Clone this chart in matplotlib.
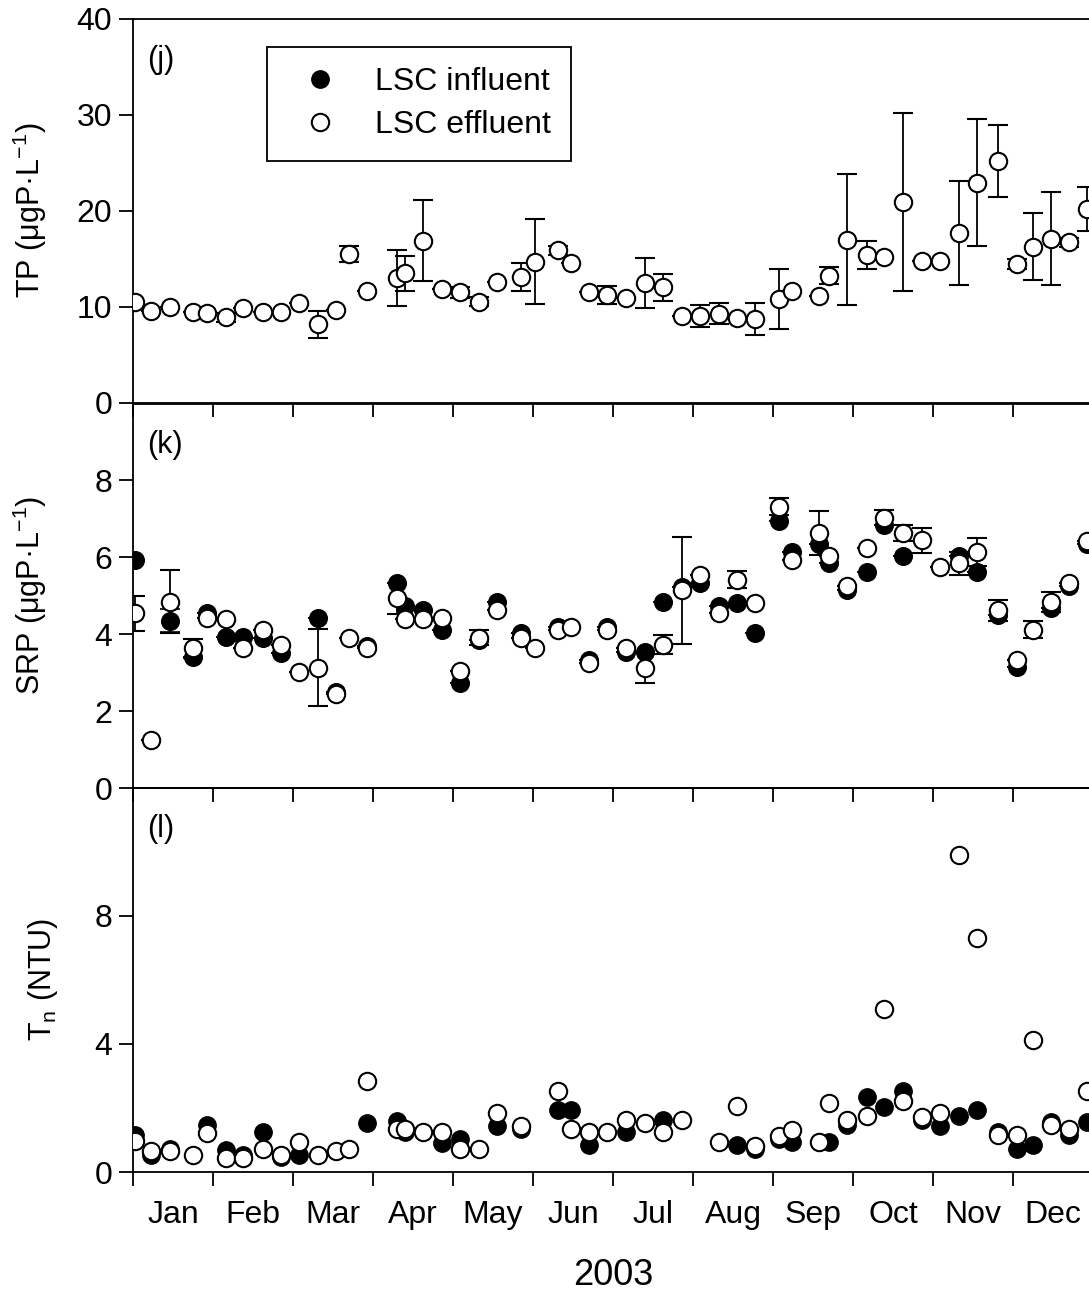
import matplotlib
matplotlib.use('Agg')
import matplotlib.pyplot as plt
import numpy as np
from matplotlib.lines import Line2D

plt.rcParams['font.family'] = ['Liberation Sans', 'DejaVu Sans']
plt.rcParams['mathtext.fontset'] = 'custom'
plt.rcParams['mathtext.rm'] = 'Liberation Sans'
plt.rcParams['mathtext.default'] = 'regular'

nan = np.nan

# sampling dates, in months since 1 Jan 2003
dates = [0.03, 0.23, 0.46, 0.75, 0.92, 1.16, 1.38, 1.62, 1.85, 2.08,
         2.31, 2.54, 2.70, 2.93, 3.30, 3.40, 3.63, 3.86, 4.09, 4.32,
         4.55, 4.85, 5.02, 5.31, 5.47, 5.70, 5.93, 6.16, 6.40, 6.63,
         6.86, 7.09, 7.32, 7.55, 7.78, 8.08, 8.24, 8.57, 8.70, 8.93,
         9.17, 9.39, 9.62, 9.86, 10.09, 10.33, 10.55, 10.81, 11.05, 11.25,
         11.48, 11.70, 11.93]

months = ['Jan', 'Feb', 'Mar', 'Apr', 'May', 'Jun',
          'Jul', 'Aug', 'Sep', 'Oct', 'Nov', 'Dec']

# (j) TP, effluent (influent sits under it)
tp_eff = [10.55, 9.6, 9.97, 9.5, 9.34, 8.9, 9.86, 9.5, 9.5, 10.45,
          8.2, 9.7, 15.5, 11.7, 13.0, 13.5, 16.9, 11.9, 11.5, 10.55,
          12.6, 13.1, 14.7, 15.87, 14.55, 11.5, 11.25, 10.9, 12.47, 12.05,
          9.0, 9.06, 9.27, 8.89, 8.75, 10.8, 11.7, 11.15, 13.26, 16.98,
          15.4, 15.17, 20.9, 14.8, 14.8, 17.67, 22.9, 25.17, 14.48, 16.28,
          17.08, 16.7, 20.17]
tp_eff_err = [0, 0, 0, 0, 0, 0.5, 0, 0, 0, 0,
              1.4, 0, 0.8, 0, 2.9, 1.8, 4.2, 0, 0.6, 0.5,
              0, 1.5, 4.4, 0.5, 0, 0, 0.9, 0, 2.6, 1.4,
              0, 1.15, 1.1, 0, 1.7, 3.1, 0, 0, 0.85, 6.8,
              1.46, 0, 9.3, 0, 0, 5.4, 6.6, 3.7, 0.5, 3.5,
              4.85, 0.5, 2.25]

# (k) SRP
srp_inf = [5.92, nan, 4.35, 3.41, 4.54, 3.93, 3.93, 3.91, 3.52, nan,
           4.42, 2.5, nan, 3.69, 5.33, 4.73, 4.64, 4.12, 2.72, 3.86,
           4.84, 4.02, nan, 4.19, nan, 3.32, 4.2, 3.54, 3.54, 4.84,
           5.23, 5.33, 4.73, 4.82, 4.03, 6.94, 6.14, 6.34, 5.85, 5.14,
           5.62, 6.83, 6.03, nan, nan, 6.03, 5.62, 4.49, 3.15, nan,
           4.67, 5.26, 6.34]
srp_inf_err = [0, 0, 0.3, 0, 0, 0, 0, 0, 0, 0,
               0, 0, 0, 0, 0, 0, 0, 0, 0, 0,
               0, 0, 0, 0, 0, 0, 0, 0, 0, 0,
               0, 0, 0, 0, 0, 0, 0, 0, 0, 0,
               0, 0, 0, 0, 0, 0, 0, 0, 0, 0,
               0, 0, 0]
srp_eff = [4.54, 1.25, 4.84, 3.63, 4.43, 4.4, 3.63, 4.12, 3.71, 3.02,
           3.13, 2.44, 3.91, 3.63, 4.93, 4.4, 4.4, 4.43, 3.05, 3.91,
           4.64, 3.91, 3.63, 4.12, 4.2, 3.24, 4.12, 3.63, 3.13, 3.73,
           5.14, 5.53, 4.54, 5.42, 4.82, 7.32, 5.92, 6.63, 6.03, 5.25,
           6.23, 7.03, 6.63, 6.44, 5.75, 5.84, 6.14, 4.62, 3.32, 4.12,
           4.84, 5.33, 6.42]
srp_eff_err = [0.45, 0, 0.82, 0.25, 0, 0, 0, 0, 0, 0,
               1.0, 0, 0, 0, 0.4, 0, 0, 0, 0, 0.2,
               0, 0, 0, 0, 0, 0, 0, 0, 0.4, 0.25,
               1.4, 0, 0, 0.22, 0, 0.22, 0, 0.58, 0, 0,
               0, 0.2, 0.2, 0.33, 0, 0.3, 0.36, 0.28, 0, 0.22,
               0.26, 0, 0]

# (l) turbidity
tn_inf = [1.15, 0.53, 0.73, nan, 1.46, 0.68, 0.53, 1.25, 0.48, 0.53,
          nan, nan, nan, 1.54, 1.58, 1.25, nan, 0.91, 1.04, nan,
          1.44, 1.35, nan, 1.92, 1.92, 0.84, nan, 1.25, nan, 1.63,
          nan, nan, nan, 0.84, 0.73, 1.04, 0.94, 0.94, 0.94, 1.46,
          2.34, 2.03, 2.54, 1.63, 1.44, 1.74, 1.92, 1.25, 0.73, 0.84,
          1.56, 1.15, 1.56]
tn_eff = [0.96, 0.65, 0.66, 0.53, 1.23, 0.44, 0.44, 0.73, 0.53, 0.94,
          0.53, 0.65, 0.73, 2.83, 1.35, 1.33, 1.25, 1.25, 0.73, 0.73,
          1.85, 1.44, nan, 2.54, 1.33, 1.25, 1.25, 1.61, 1.54, 1.25,
          1.63, nan, 0.94, 2.05, 0.81, 1.12, 1.32, 0.94, 2.15, 1.63,
          1.74, 5.1, 2.23, 1.72, 1.84, 9.88, 7.3, 1.15, 1.15, 4.11,
          1.46, 1.33, 2.54]

fig = plt.figure(figsize=(10.89, 12.93), dpi=100)
W, H = 1089, 1293
left = 133 / W
width = (1093 - 133) / W
panel_h = 384.5 / H
bottoms = [(H - 403) / H, (H - 788) / H, (H - 1172) / H]
axes = [fig.add_axes([left, b, width, panel_h]) for b in bottoms]

ms = 12.5
inf_style = dict(fmt='o', color='black', mfc='black', mec='black', ms=ms,
                 mew=1.2, elinewidth=1.3, capsize=7, capthick=1.3, zorder=2)
eff_style = dict(fmt='o', color='black', mfc='white', mec='black', ms=ms,
                 mew=1.5, elinewidth=1.3, capsize=7, capthick=1.3, zorder=3)

x = np.array(dates)

ax = axes[0]
ax.errorbar(x, tp_eff, yerr=tp_eff_err, **eff_style)
ax.set_ylim(0, 40)
ax.set_yticks([0, 10, 20, 30, 40])
ax.set_ylabel('TP (μgP·L$^{-1}$)', fontsize=22)

ax = axes[1]
ax.errorbar(x, srp_inf, yerr=srp_inf_err, **inf_style)
ax.errorbar(x, srp_eff, yerr=srp_eff_err, **eff_style)
ax.set_ylim(0, 10)
ax.set_yticks([0, 2, 4, 6, 8])
ax.set_ylabel('SRP (μgP·L$^{-1}$)', fontsize=22)

ax = axes[2]
ax.plot(x, tn_inf, 'o', color='black', ms=ms, zorder=2)
ax.plot(x, tn_eff, 'o', mfc='white', mec='black', mew=1.5, ms=ms, zorder=3)
ax.set_ylim(0, 12)
ax.set_yticks([0, 4, 8])
ax.set_ylabel('T$_n$ (NTU)', fontsize=22)

for a, lab in zip(axes, ['(j)', '(k)', '(l)']):
    a.set_xlim(0, 12)
    a.set_xticks(np.arange(13))
    a.set_xticks(np.arange(12) + 0.5, minor=True)
    a.tick_params(axis='both', which='major', direction='out', length=10,
                  width=1.3, labelsize=23, pad=5)
    a.tick_params(axis='x', which='major', labelbottom=False)
    a.tick_params(axis='x', which='minor', length=0)
    a.set_xticklabels([], minor=True)
    a.spines['right'].set_visible(False)
    for s in ['left', 'bottom', 'top']:
        a.spines[s].set_linewidth(1.3)
    a.text(0.015, 0.93, lab, transform=a.transAxes, fontsize=22,
           va='top', ha='left')
    a.yaxis.set_label_coords(-0.087, 0.5)
    a.patch.set_alpha(0)

axes[2].set_xticklabels(months, minor=True, fontsize=23)
axes[2].tick_params(axis='x', which='minor', pad=20)
axes[2].set_xlabel('2003', fontsize=26, labelpad=20)
axes[2].yaxis.set_label_coords(-0.076, 0.5)

handles = [Line2D([], [], marker='o', ls='none', mfc='black', mec='black', ms=ms),
           Line2D([], [], marker='o', ls='none', mfc='white', mec='black', mew=1.5, ms=ms)]
leg = axes[0].legend(handles, ['LSC influent', 'LSC effluent'],
                     loc='upper left', bbox_to_anchor=(0.1396, 0.927),
                     fontsize=23, frameon=True, fancybox=False,
                     edgecolor='black', framealpha=1, borderpad=0.65,
                     handletextpad=0.72, labelspacing=0.4, handlelength=2.0,
                     borderaxespad=0)
leg.get_frame().set_linewidth(1.3)

fig.savefig('out.png', dpi=100)
